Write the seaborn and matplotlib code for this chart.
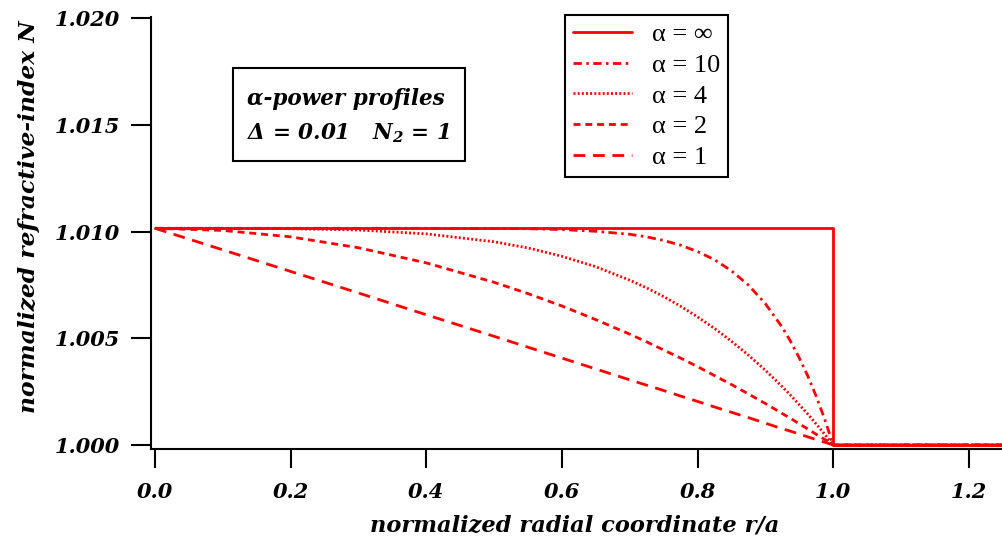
import matplotlib
matplotlib.use('Agg')
import matplotlib.pyplot as plt
from matplotlib.patches import Rectangle
import seaborn as sns

# ── data ─────────────────────────────────────────────────────────────────────
r_grid = [0.0, 0.1, 0.2, 0.3, 0.4, 0.5, 0.55, 0.6, 0.65, 0.7, 0.725, 0.75, 0.775,
          0.8, 0.825, 0.85, 0.875, 0.9, 0.925, 0.9375, 0.95, 0.9625, 0.975, 0.9875,
          1.0, 1.25]
n_alpha1 = [1.01015, 1.00914, 1.00813, 1.00712, 1.00610, 1.00509, 1.00458, 1.00407,
            1.00356, 1.00305, 1.00280, 1.00255, 1.00229, 1.00204, 1.00178, 1.00153,
            1.00128, 1.00102, 1.00076, 1.00064, 1.00051, 1.00038, 1.00025, 1.00013,
            1.00000, 1.00000]
n_alpha2 = [1.01015, 1.01005, 1.00975, 1.00924, 1.00853, 1.00762, 1.00709, 1.00651,
            1.00587, 1.00519, 1.00483, 1.00445, 1.00407, 1.00367, 1.00325, 1.00283,
            1.00239, 1.00194, 1.00147, 1.00124, 1.00099, 1.00075, 1.00050, 1.00026,
            1.00000, 1.00000]
n_alpha4 = [1.01015, 1.01015, 1.01013, 1.01007, 1.00989, 1.00952, 1.00923, 1.00884,
            1.00835, 1.00772, 1.00736, 1.00695, 1.00650, 1.00600, 1.00546, 1.00486,
            1.00421, 1.00350, 1.00273, 1.00232, 1.00189, 1.00145, 1.00098, 1.00050,
            1.00000, 1.00000]
n_alpha10 = [1.01015, 1.01015, 1.01015, 1.01015, 1.01015, 1.01014, 1.01013, 1.01009,
             1.01001, 1.00987, 1.00975, 1.00958, 1.00936, 1.00906, 1.00868, 1.00816,
             1.00749, 1.00662, 1.00551, 1.00484, 1.00408, 1.00324, 1.00228, 1.00121,
             1.00000, 1.00000]
r_step = [0.0, 1.0, 1.0, 1.25]
n_step = [1.01015, 1.01015, 1.00000, 1.00000]

legend_labels = ['α = ∞', 'α = 10', 'α = 4', 'α = 2', 'α = 1']
y_ticks = [1.000, 1.005, 1.010, 1.015, 1.020]
x_ticks = [0.0, 0.2, 0.4, 0.6, 0.8, 1.0, 1.2]

# ── style ────────────────────────────────────────────────────────────────────
sns.set_style('ticks')
plt.rcParams.update({
    'font.family': ['DejaVu Serif'],
    'font.weight': 'bold',
    'font.style': 'italic',
    'mathtext.fontset': 'dejavuserif',
    'lines.scale_dashes': False,
    'axes.linewidth': 1.5,
    'text.color': 'black',
    'axes.labelcolor': 'black',
    'xtick.color': 'black',
    'ytick.color': 'black',
    'axes.edgecolor': 'black',
})
BI = dict(family='DejaVu Serif', weight='bold', style='italic', color='black')
RED = '#FF0000'
LW = 2.0

W, H = 1002, 547
fig = plt.figure(figsize=(W / 100, H / 100), dpi=100)
L, R, T, B = 151, 1002, 17, 449
ax = fig.add_axes([L / W, 1 - B / H, (R - L) / W, (B - T) / H])

series = [
    (r_step, n_step, '-'),
    (r_grid, n_alpha10, (0, (6, 3.2, 1.8, 3.2))),
    (r_grid, n_alpha4, (0, (1.4, 1.6))),
    (r_grid, n_alpha2, (0, (5, 3.5))),
    (r_grid, n_alpha1, (0, (8.5, 5.5))),
]
for (xs, ys, ls), lab in zip(series, legend_labels):
    sns.lineplot(x=xs, y=ys, ax=ax, color=RED, lw=LW, linestyle=ls,
                 estimator=None, sort=False, label=lab)

ax.set_xlim(-0.0059, 1.249)
ax.set_ylim(0.99981, 1.02005)
ax.set_xticks(x_ticks)
ax.set_xticklabels([f'{v:.1f}' for v in x_ticks])
ax.set_yticks(y_ticks)
ax.set_yticklabels([f'{v:.3f}' for v in y_ticks])
for lbl in ax.get_xticklabels() + ax.get_yticklabels():
    lbl.set(fontsize=15, **BI)
ax.tick_params(axis='y', length=14.4, width=1.5, pad=8)
ax.tick_params(axis='x', length=13.7, width=1.5, pad=10)
for side in ['top', 'right']:
    ax.spines[side].set_visible(False)

ax.set_xlabel('normalized radial coordinate r/a', fontsize=16.2, **BI)
ax.xaxis.set_label_coords((575 - L) / (R - L), (B - 515) / (B - T))
ax.set_ylabel('normalized refractive-index N', fontsize=16.8, **BI)
ax.yaxis.set_label_coords((40 - L) / (R - L), (B - 217) / (B - T))

# annotation box
def ax_xy(px, py):
    return (px - L) / (R - L), (B - py) / (B - T)

x0, y0 = ax_xy(233, 161)
x1, y1 = ax_xy(465, 68)
ax.add_patch(Rectangle((x0, y0), x1 - x0, y1 - y0, transform=ax.transAxes,
                       fill=False, ec='black', lw=1.5, zorder=5))
ax.text(*ax_xy(247, 105), 'α-power profiles', transform=ax.transAxes,
        fontsize=15.5, va='baseline', ha='left', **BI)
ax.text(*ax_xy(247, 139), r'Δ = 0.01   $\mathbfit{N}_\mathbfit{2}$ = 1',
        transform=ax.transAxes, fontsize=15.5, va='baseline', ha='left', **BI)

# legend
leg = ax.legend(loc='upper left', bbox_to_anchor=ax_xy(565, 15), borderaxespad=0,
                frameon=True, fancybox=False, framealpha=1, edgecolor='black',
                prop={'family': ['Liberation Serif', 'DejaVu Serif'], 'size': 19,
                      'style': 'normal', 'weight': 'normal'},
                handlelength=2.25, handletextpad=0.75, labelspacing=0.27,
                borderpad=0.3)
leg.get_frame().set_linewidth(1.5)
for t in leg.get_texts():
    t.set_color('black')

fig.savefig('out.png', dpi=100)
